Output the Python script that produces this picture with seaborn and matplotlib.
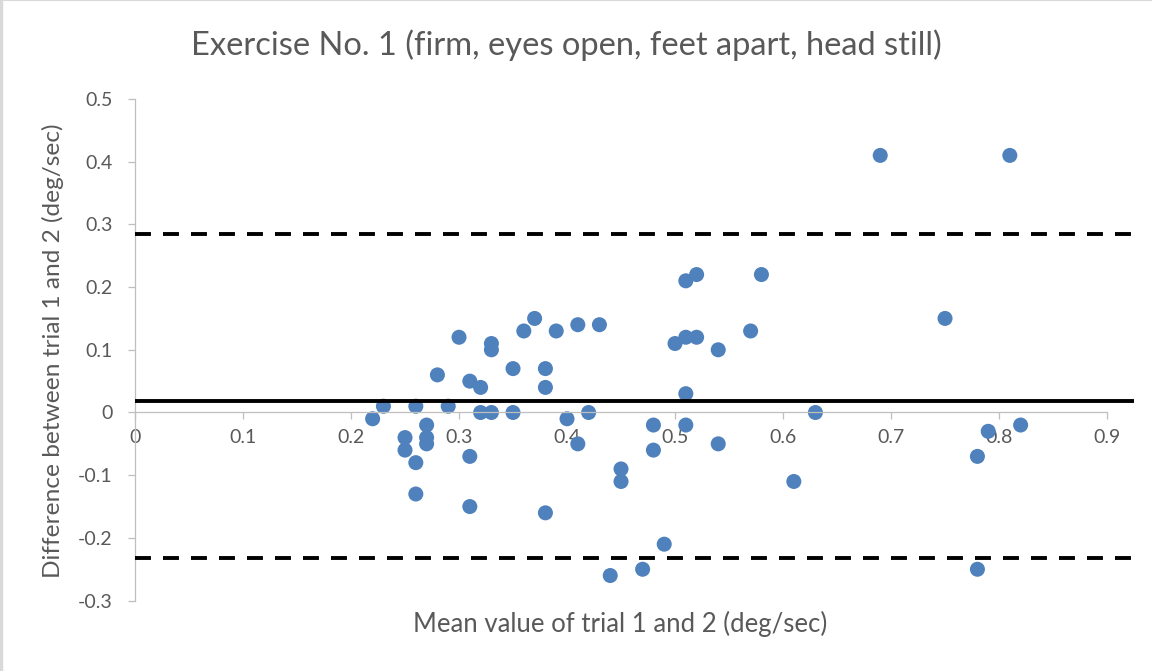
import matplotlib.pyplot as plt
import seaborn as sns
import pandas as pd
from matplotlib.lines import Line2D

# values (Bland-Altman style plot)
mean_vals = [0.22, 0.23, 0.25, 0.25, 0.26, 0.26, 0.26, 0.27, 0.27, 0.27,
             0.28, 0.29, 0.30, 0.31, 0.31, 0.31, 0.32, 0.32, 0.33, 0.33,
             0.33, 0.35, 0.35, 0.36, 0.37, 0.38, 0.38, 0.38, 0.39, 0.40,
             0.41, 0.41, 0.42, 0.43, 0.44, 0.45, 0.45, 0.47, 0.48, 0.48,
             0.49, 0.50, 0.51, 0.51, 0.51, 0.51, 0.52, 0.52, 0.54, 0.54,
             0.57, 0.58, 0.61, 0.63, 0.69, 0.75, 0.78, 0.78, 0.79, 0.81,
             0.82]
diff_vals = [-0.01, 0.01, -0.04, -0.06, 0.01, -0.08, -0.13, -0.02, -0.04, -0.05,
             0.06, 0.01, 0.12, 0.05, -0.07, -0.15, 0.04, 0.00, 0.11, 0.10,
             0.00, 0.07, 0.00, 0.13, 0.15, 0.07, 0.04, -0.16, 0.13, -0.01,
             0.14, -0.05, 0.00, 0.14, -0.26, -0.09, -0.11, -0.25, -0.02, -0.06,
             -0.21, 0.11, 0.12, 0.21, 0.03, -0.02, 0.12, 0.22, 0.10, -0.05,
             0.13, 0.22, -0.11, 0.00, 0.41, 0.15, -0.07, -0.25, -0.03, 0.41,
             -0.02]

bias = 0.019
upper_loa = 0.285
lower_loa = -0.232
line_x = [0, 0.925]

x_ticks = [0, 0.1, 0.2, 0.3, 0.4, 0.5, 0.6, 0.7, 0.8, 0.9]
x_tick_labels = ['0', '0.1', '0.2', '0.3', '0.4', '0.5', '0.6', '0.7', '0.8', '0.9']
y_ticks = [-0.3, -0.2, -0.1, 0, 0.1, 0.2, 0.3, 0.4, 0.5]
y_tick_labels = ['-0.3', '-0.2', '-0.1', '0', '0.1', '0.2', '0.3', '0.4', '0.5']

title = 'Exercise No. 1 (firm, eyes open, feet apart, head still)'
x_label = 'Mean value of trial 1 and 2 (deg/sec)'
y_label = 'Difference between trial 1 and 2 (deg/sec)'

sns.set_style('white')
plt.rcParams['font.family'] = ['Lato', 'DejaVu Sans']

text_color = '#595959'
axis_color = '#BFBFBF'

fig = plt.figure(figsize=(11.52, 6.71), dpi=100)
ax = fig.add_axes([0.1172, 0.1049, 0.8672, 0.7476])

df = pd.DataFrame({'mean': mean_vals, 'diff': diff_vals})
sns.scatterplot(data=df, x='mean', y='diff', ax=ax, s=117, color='#4F81BD',
                edgecolor='none', linewidth=0, zorder=2)

# bias and limits of agreement
ax.plot(line_x, [bias, bias], color='black', lw=2.8, zorder=3, solid_capstyle='butt')
for v in (upper_loa, lower_loa):
    ax.plot(line_x, [v, v], color='black', lw=2.8, dashes=(4.1, 3.1),
            dash_capstyle='butt', zorder=3)

ax.set_xlim(0, 0.925)
ax.set_ylim(-0.3, 0.5)

# excel-like axes: x axis crosses at y=0
ax.spines['bottom'].set_position(('data', 0))
ax.spines['bottom'].set_bounds(0, 0.9)
ax.spines['left'].set_bounds(-0.3, 0.5)
ax.spines['top'].set_visible(False)
ax.spines['right'].set_visible(False)
for s in ('bottom', 'left'):
    ax.spines[s].set_color(axis_color)
    ax.spines[s].set_linewidth(0.9)

ax.set_xticks(x_ticks, x_tick_labels)
ax.set_yticks(y_ticks, y_tick_labels)
ax.tick_params(axis='both', direction='out', length=5, width=0.9, color=axis_color,
               labelcolor=text_color, labelsize=14, bottom=True, left=True)
ax.tick_params(axis='x', pad=7)
ax.tick_params(axis='y', pad=11)
ax.set_xlabel('')
ax.set_ylabel('')

fig.text(0.4913, 1 - 55 / 671, title, ha='center', va='baseline',
         fontsize=23.5, color=text_color)
fig.text(0.538, 1 - 632 / 671, x_label, ha='center', va='baseline',
         fontsize=18.5, color=text_color)
fig.text(0.046, 1 - 351 / 671, y_label, ha='center', va='center', rotation=90,
         fontsize=17.6, color=text_color)

# chart area border (only top and left visible in the reference crop)
fig.add_artist(Line2D([0, 0], [0, 1], transform=fig.transFigure, color='#D9D9D9', lw=3.9))
fig.add_artist(Line2D([0, 1], [1, 1], transform=fig.transFigure, color='#D9D9D9', lw=1.5))

fig.savefig('out.png', dpi=100)
plt.close(fig)
